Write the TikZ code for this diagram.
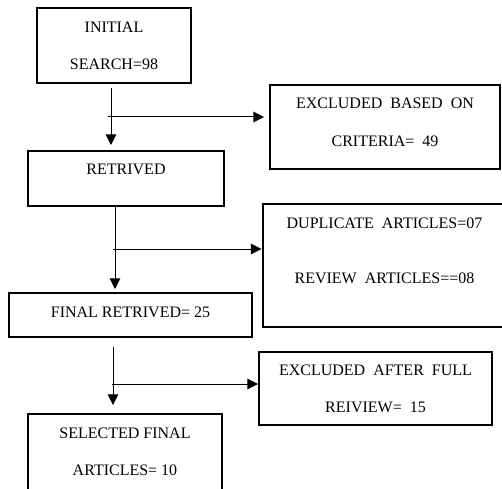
\documentclass[tikz,border=0pt]{standalone}
\usepackage{fontspec}
\setmainfont{Liberation Serif}
\usetikzlibrary{arrows.meta}

\begin{document}
\begin{tikzpicture}[x=0.75pt,y=-0.75pt,
    box/.style={draw,line width=1.5pt,align=center,inner sep=0pt,font=\fontsize{12}{14}\selectfont},
    arr/.style={line width=0.75pt,-{Triangle[length=8pt,width=8pt]}}]
    \path[use as bounding box,clip] (0,0) rectangle (502,488);
    % left column
    \node(init) at (114,45.5) [box,minimum width=115.5pt,minimum height=56.25pt] {INITIAL\\[14pt]SEARCH=98};
    \node(retr) at (126,178.5) [box,minimum width=147pt,minimum height=41.25pt] {RETRIVED\\ \mbox{}};
    \node(final) at (130.5,315) [box,minimum width=182.25pt,minimum height=33pt,text depth=4.5pt] {FINAL RETRIVED= 25};
    \node(sel) at (125,452) [box,minimum width=145.5pt,minimum height=57pt] {SELECTED FINAL\\[14pt]ARTICLES= 10};
    % right column
    \node(crit) at (385,127) [box,minimum width=172.5pt,minimum height=63pt] {EXCLUDED \ BASED \ ON\\[15pt]CRITERIA= \ 49\\[-7pt]\mbox{}};
    \node(dup) at (384.5,265.5) [box,minimum width=183pt,minimum height=92.25pt] {DUPLICATE \ ARTICLES=07\\[27pt]REVIEW \ ARTICLES==08\\[8.5pt]\mbox{}};
    \node(full) at (375.5,388.5) [box,minimum width=174.75pt,minimum height=54.75pt] {EXCLUDED \ AFTER \ FULL\\[14pt]REIVIEW= \ 15};
    % branch points
    \coordinate (j1) at (111,117);
    \coordinate (j2) at (115,249);
    \coordinate (j3) at (113,384);
    \draw[arr,shorten <=3pt,shorten >=3.75pt] (init.south -| j1) -- (retr.north -| j1);
    \draw[arr,shorten >=3.75pt] ([xshift=-2.25pt]j1) -- (crit.west |- j1);
    \draw[arr,shorten >=2.25pt] (retr.south -| j2) -- (final.north -| j2);
    \draw[arr] ([xshift=-1.5pt]j2) -- (dup.west |- j2);
    \draw[arr,shorten <=6.75pt,shorten >=6pt] (final.south -| j3) -- (sel.north -| j3);
    \draw[arr] ([xshift=-0.75pt]j3) -- (full.west |- j3);
\end{tikzpicture}
\end{document}
